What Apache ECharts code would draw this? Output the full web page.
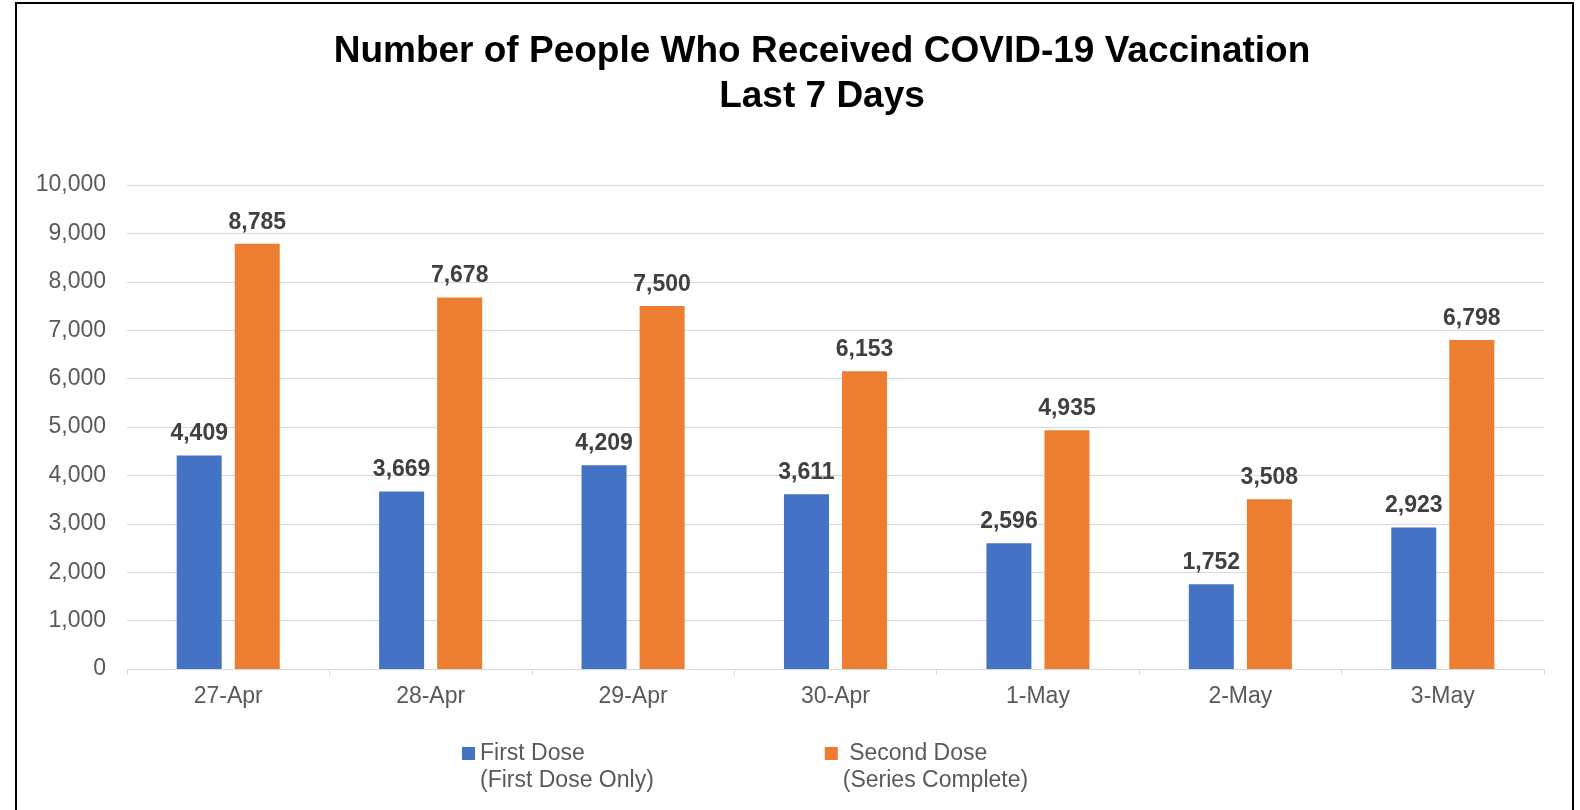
<!DOCTYPE html>
<html><head><meta charset="utf-8">
<script src="https://cdn.jsdelivr.net/npm/echarts@6/dist/echarts.min.js"></script>
<style>html,body{margin:0;padding:0;background:#fff;}#c{width:1580px;height:810px;}</style>
</head><body><div id="c"></div>
<script>
const categories = ['27-Apr','28-Apr','29-Apr','30-Apr','1-May','2-May','3-May'];
const firstDose = [4409,3669,4209,3611,2596,1752,2923];
const secondDose = [8785,7678,7500,6153,4935,3508,6798];
const seriesNames = ['First Dose\n(First Dose Only)', 'Second Dose\n(Series Complete)'];
const titleText = 'Number of People Who Received COVID-19 Vaccination\nLast 7 Days';

const font = 'Liberation Sans, Arial, sans-serif';
const chart = echarts.init(document.getElementById('c'));
const labelStyle = {
  show: true, position: 'top', distance: 10,
  fontFamily: font, fontSize: 23, fontWeight: 'bold', color: '#404040',
  formatter: p => p.value.toLocaleString('en-US')
};
// square icon sitting at the top of a taller (transparent-extent) box so it lines up with the first text line
const legendIcon = 'path://M0,0L13,0L13,13L0,13Z M0,40L0.05,40L0,39.95Z';
chart.setOption({
  animation: false,
  backgroundColor: '#fff',
  title: {
    text: titleText, left: 817, textAlign: 'center', top: 24,
    textStyle: { fontFamily: font, fontSize: 37, fontWeight: 'bold', color: '#000', lineHeight: 45 }
  },
  graphic: [{
    type: 'polyline', silent: true,
    shape: { points: [[16, 830], [16, 3], [1573, 3], [1573, 830]] },
    style: { stroke: '#000', lineWidth: 2, fill: null }
  }],
  legend: {
    left: 457, top: 735, itemGap: 171, itemWidth: 13, itemHeight: 40, icon: legendIcon,
    textStyle: { fontFamily: font, fontSize: 23, color: '#595959', lineHeight: 27 },
    formatter: name => name === seriesNames[1] ? ' ' + name : name,
    data: seriesNames
  },
  grid: { left: 127, right: 36, top: 185, bottom: 141, containLabel: false },
  xAxis: {
    type: 'category', data: categories,
    axisLine: { lineStyle: { color: '#d9d9d9', width: 1 } },
    axisTick: { show: true, length: 6, lineStyle: { color: '#d9d9d9' } },
    axisLabel: { fontFamily: font, fontSize: 23, color: '#595959', margin: 16 }
  },
  yAxis: {
    type: 'value', min: 0, max: 10000, interval: 1000,
    axisLine: { show: false }, axisTick: { show: false },
    splitLine: { lineStyle: { color: '#d9d9d9', width: 1 } },
    axisLabel: { fontFamily: font, fontSize: 23, color: '#595959', margin: 21,
      formatter: v => v.toLocaleString('en-US') }
  },
  series: [
    { name: seriesNames[0], type: 'bar', data: firstDose, barWidth: 45, barGap: '29%',
      itemStyle: { color: '#4472C4' }, label: labelStyle },
    { name: seriesNames[1], type: 'bar', data: secondDose, barWidth: 45, barGap: '29%',
      itemStyle: { color: '#ED7D31' }, label: labelStyle }
  ]
});
</script></body></html>
